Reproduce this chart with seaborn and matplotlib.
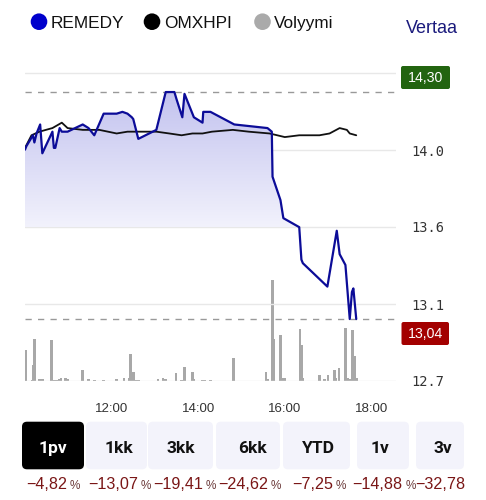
import numpy as np
import matplotlib
matplotlib.use("Agg")
import matplotlib.pyplot as plt
import seaborn as sns
import pandas as pd
from matplotlib.patches import Circle, FancyBboxPatch
from matplotlib.colors import LinearSegmentedColormap

# ---------------- data ----------------
remedy_time = ["10:00", "10:02", "10:11", "10:13", "10:16", "10:21", "10:24", "10:38", "10:40", "10:42",
               "10:48", "10:51", "10:59", "11:20", "11:28", "11:36", "11:49", "12:07", "12:15", "12:22",
               "12:28", "12:30", "12:37", "13:02", "13:15", "13:27", "13:30", "13:38", "13:41", "13:54",
               "14:06", "14:07", "14:17", "14:50", "15:36", "15:42", "15:43", "15:54", "15:58", "16:20",
               "16:23", "16:25", "16:59", "17:12", "17:16", "17:24", "17:30", "17:33", "17:35", "17:39"]
remedy_price = [13.98, 14.00, 14.06, 14.02, 14.07, 14.12, 13.96, 14.08, 13.99, 13.99,
                14.10, 14.08, 14.08, 14.12, 14.10, 14.06, 14.18, 14.18, 14.19, 14.18,
                14.16, 14.15, 14.04, 14.09, 14.30, 14.30, 14.26, 14.16, 14.29, 14.16,
                14.13, 14.19, 14.19, 14.12, 14.10, 14.08, 13.83, 13.70, 13.60, 13.55,
                13.37, 13.35, 13.22, 13.53, 13.40, 13.34, 13.04, 13.19, 13.21, 13.04]

omx_time = ["10:00", "10:09", "10:20", "10:38", "10:51", "10:59", "11:20", "11:43", "12:07", "12:22",
            "12:39", "13:02", "13:20", "13:37", "13:52", "14:06", "14:19", "14:48", "15:10", "15:39",
            "16:00", "16:20", "16:48", "17:02", "17:16", "17:26", "17:30", "17:39"]
omx_value = [13.99, 14.06, 14.08, 14.10, 14.13, 14.10, 14.09, 14.09, 14.07, 14.08,
             14.08, 14.08, 14.07, 14.06, 14.07, 14.07, 14.08, 14.09, 14.08, 14.07,
             14.05, 14.06, 14.06, 14.07, 14.10, 14.09, 14.07, 14.06]

volume_time = ["09:59", "10:01", "10:10", "10:12", "10:13", "10:20", "10:24", "10:37", "10:41", "10:44",
               "10:48", "10:50", "10:56", "10:59", "11:20", "11:28", "11:36", "11:49", "12:07", "12:17",
               "12:24", "12:26", "12:30", "12:33", "12:37", "13:04", "13:11", "13:15", "13:29", "13:37",
               "13:41", "13:52", "13:54", "14:05", "14:09", "14:17", "14:49", "15:34", "15:36", "15:43",
               "15:45", "15:54", "15:57", "16:00", "16:21", "16:24", "16:25", "16:48", "16:55", "17:00",
               "17:09", "17:11", "17:15", "17:24", "17:27", "17:30", "17:34", "17:37", "17:39"]
volume = [2070, 3070, 100, 1570, 4230, 230, 170, 4070, 130, 130,
          230, 300, 330, 170, 1130, 170, 70, 70, 230, 330,
          330, 2730, 900, 130, 130, 230, 300, 230, 830, 100,
          1400, 900, 200, 130, 130, 130, 2330, 900, 200, 10130,
          4230, 4570, 330, 300, 5200, 3570, 300, 570, 230, 630,
          1130, 300, 1300, 5330, 300, 230, 5130, 2470, 300]

x_tick_values = [12, 14, 16, 18]
x_tick_labels = ["12:00", "14:00", "16:00", "18:00"]
y_tick_labels = ["12.7", "13.1", "13.6", "14.0", ""]
high_label = "14,30"
low_label = "13,04"
legend_labels = ["REMEDY", "OMXHPI", "Volyymi"]
compare_label = "Vertaa"
period_labels = ["1pv", "1kk", "3kk", "6kk", "YTD", "1v", "3v"]
period_changes = ["\u22124,82", "\u221213,07", "\u221219,41", "\u221224,62", "\u22127,25", "\u221214,88", "\u221232,78"]


def hrs(s):
    h, m = s.split(":")
    return int(h) + int(m) / 60.0


# ---------------- style ----------------
sns.set_theme(style="white")
plt.rcParams['font.family'] = ['Liberation Sans', 'DejaVu Sans']

W, H = 486, 500
fig = plt.figure(figsize=(W / 100, H / 100), dpi=100)
fig.patch.set_facecolor("white")

# layout (pixels)
ax_left, ax_right, ax_top, ax_bottom = 25, 396, 65, 381
px_per_hour = 43.3
val_per_px = 0.005551
ymin = 12.696
ymax = ymin + (ax_bottom - ax_top) * val_per_px
xmin = 10.0
xmax = xmin + (ax_right - ax_left) / px_per_hour
grid_step = 77 * val_per_px
grid_levels = [ymin + k * grid_step for k in range(5)]

# volume axis (behind)
axv = fig.add_axes([ax_left / W, 1 - ax_bottom / H, (ax_right - ax_left) / W, (ax_bottom - ax_top) / H])
ax = fig.add_axes(axv.get_position(), sharex=axv)
axv.set_zorder(1)
ax.set_zorder(2)
ax.patch.set_visible(False)

vt = np.array([hrs(s) for s in volume_time])
axv.bar(vt, volume, width=0.058, color="#a8a8a8", linewidth=0)
axv.set_ylim(0, (ax_bottom - ax_top) * 100)
axv.set_xlim(xmin, xmax)
axv.axis("off")

df_r = pd.DataFrame({"t": [hrs(s) for s in remedy_time], "p": remedy_price})
df_o = pd.DataFrame({"t": [hrs(s) for s in omx_time], "v": omx_value})

t = df_r["t"].to_numpy()
p = df_r["p"].to_numpy()
base = grid_levels[2]

coll = ax.fill_between(t, np.maximum(p, base), base, color="none", lw=0)
path = coll.get_paths()[0]
cmap = LinearSegmentedColormap.from_list("g", ["#f2f2fc", "#c3c3ef"])
grad = np.linspace(0, 1, 256)[:, None]
im = ax.imshow(grad, cmap=cmap, extent=[t.min(), t.max(), base, p.max()],
               origin="lower", aspect="auto", zorder=1, interpolation="bilinear")
im.set_clip_path(path, transform=ax.transData)

for g in grid_levels:
    ax.axhline(g, color="#e8e8e8", lw=1.0, zorder=0.5)

ax.axhline(p.max(), color="#999999", lw=1.0, dashes=(4.5, 4.5), zorder=1.5)
ax.axhline(p.min(), color="#999999", lw=1.0, dashes=(4.5, 4.5), zorder=1.5)

sns.lineplot(data=df_r, x="t", y="p", ax=ax, color="#0c0c98", linewidth=1.6,
             estimator=None, sort=False, zorder=4)
sns.lineplot(data=df_o, x="t", y="v", ax=ax, color="#111111", linewidth=1.3,
             estimator=None, sort=False, zorder=3)

ax.set_xlim(xmin, xmax)
ax.set_ylim(ymin, ymax)
ax.set_xlabel("")
ax.set_ylabel("")
for s in ax.spines.values():
    s.set_visible(False)
ax.grid(False)
ax.set_xticks(x_tick_values)
ax.set_xticklabels(x_tick_labels)
ax.yaxis.tick_right()
ax.set_yticks(grid_levels)
ax.set_yticklabels(y_tick_labels)
ax.tick_params(axis="x", length=0, pad=15.5, labelsize=9.5, labelcolor="#333333")
ax.tick_params(axis="y", length=0, pad=11, labelsize=9.8, labelcolor="#333333")
for lbl in ax.get_yticklabels():
    lbl.set_fontfamily("DejaVu Sans Mono")

# ---------------- overlay for UI elements ----------------
ov = fig.add_axes([0, 0, 1, 1], zorder=5)
ov.set_xlim(0, W)
ov.set_ylim(H, 0)
ov.axis("off")
ov.patch.set_visible(False)

# legend
legend_colors = ["#0000cc", "#000000", "#aaaaaa"]
legend_cx = [39, 152, 262.5]
legend_tx = [51, 164, 274]
for c, cx, tx, lab in zip(legend_colors, legend_cx, legend_tx, legend_labels):
    ov.add_patch(Circle((cx, 21.7), 8.3, color=c, lw=0))
    ov.text(tx, 28.3, lab, fontsize=12.4, color="#111111", va="baseline", ha="left")
ov.text(406, 33.3, compare_label, fontsize=13, color="#1b1b7d", va="baseline", ha="left")

# high / low labels
ov.add_patch(FancyBboxPatch((401, 66), 49, 23, boxstyle="round,pad=0,rounding_size=2",
                            fc="#226410", ec="none"))
ov.text(425.5, 77.8, high_label, color="white", fontsize=10.2, ha="center", va="center")
ov.add_patch(FancyBboxPatch((401.5, 322), 47.5, 23, boxstyle="round,pad=0,rounding_size=2",
                            fc="#a30000", ec="none"))
ov.text(425.3, 333.8, low_label, color="white", fontsize=10.2, ha="center", va="center")

# period buttons
btn_left = [22, 86, 148, 216, 283, 357, 416]
btn_right = [84, 147, 213, 280, 350, 409, 464]
btn_text_x = [53, 118.5, 181, 252, 318, 380, 443]
pct_left = [26, 88, 153, 218, 292, 352, 415]
for i, (l, r, tx, lab) in enumerate(zip(btn_left, btn_right, btn_text_x, period_labels)):
    active = i == 0
    ov.add_patch(FancyBboxPatch((l, 421.7), r - l, 47.6,
                                boxstyle="round,pad=0,rounding_size=5",
                                fc="#000000" if active else "#f3f3fb", ec="none"))
    ov.text(tx, 453.3, lab, fontsize=12.5, fontweight="bold", fontfamily=["Roboto", "DejaVu Sans"],
            color="white" if active else "#111111", ha="center", va="baseline")

fig.canvas.draw()
renderer = fig.canvas.get_renderer()
for xl, ch in zip(pct_left, period_changes):
    tt = ov.text(xl, 489, ch, fontsize=11.6, color="#7a1616", ha="left", va="baseline")
    bb = tt.get_window_extent(renderer=renderer)
    xr = bb.x1 + 3
    if xr + 8 < 466:
        ov.text(xr, 489, "%", fontsize=8.5, color="#6b3a3a", ha="left", va="baseline")

fig.savefig("out.png", dpi=100, facecolor="white")
